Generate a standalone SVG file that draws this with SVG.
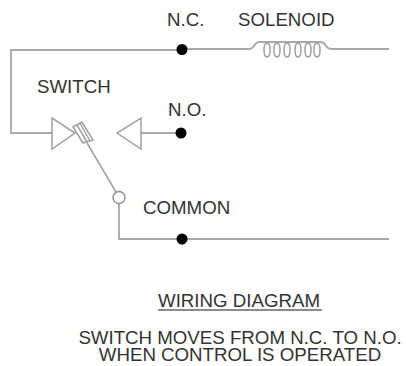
<svg xmlns="http://www.w3.org/2000/svg" width="406" height="366" viewBox="0 0 406 366">
<style>
.t{font-family:"Liberation Sans",Arial,sans-serif;font-size:18.7px;fill:#333}
.w{fill:none;stroke:#a8a8a8;stroke-width:1.8}
.n{fill:none;stroke:#a0a0a0;stroke-width:1.5}
.d{fill:#000}
</style>
<rect width="406" height="366" fill="#fff"/>
<g id="connectors">
<path class="w" d="M182 50H11V133H52"/>
<path class="w" d="M182 49H249Q252 49 254 46Q256 42 260 42H320Q324 42 326 46Q328 49 332 49H389"/>
<path class="w" d="M141 133H181"/>
<path class="w" d="M119 203V239H389"/>
<path class="n" stroke="#888" d="M87 143L116 192"/>
</g>
<g id="solenoid">
<path class="n" stroke-width="1.2" d="M267 43c-4 0-4 14 0 14s4-14 0-14M277 43c-4 0-4 14 0 14s4-14 0-14M287 43c-4 0-4 14 0 14s4-14 0-14M298 43c-4 0-4 14 0 14s4-14 0-14M308 43c-4 0-4 14 0 14s4-14 0-14M317 43c-4 0-4 14 0 14s4-14 0-14"/>
<text class="t" x="238" y="26">SOLENOID</text>
</g>
<g id="nc"><circle class="d" cx="182" cy="49.500" r="5.500"/><text class="t" x="167" y="26">N.C.</text></g>
<g id="no"><circle class="d" cx="181" cy="133" r="5.500"/><text class="t" x="168" y="116">N.O.</text></g>
<g id="common"><circle class="d" cx="182" cy="239" r="5.500"/><text class="t" x="143" y="214">COMMON</text></g>
<g id="switch">
<path class="n" d="M52 118V149L75 133Z"/>
<path class="n" d="M141 118V149L117 133Z"/>
<path class="n" style="fill:#fff" d="M73 127L82 122L93 140L83 143Z"/>
<path class="n" d="M77 125L87 142M80 123L90 141"/>
<circle cx="119" cy="197.500" r="6" fill="#fff" stroke="#909090" stroke-width="1.4"/>
<text class="t" x="37" y="93">SWITCH</text>
</g>
<g id="caption">
<text class="t" x="158" y="307">WIRING DIAGRAM</text>
<path d="M158 310H322" stroke="#666" stroke-width="1.4"/>
<text class="t" x="240" y="344" text-anchor="middle">SWITCH MOVES FROM N.C. TO N.O.</text>
<text class="t" x="240" y="361" text-anchor="middle">WHEN CONTROL IS OPERATED</text>
</g>
</svg>
